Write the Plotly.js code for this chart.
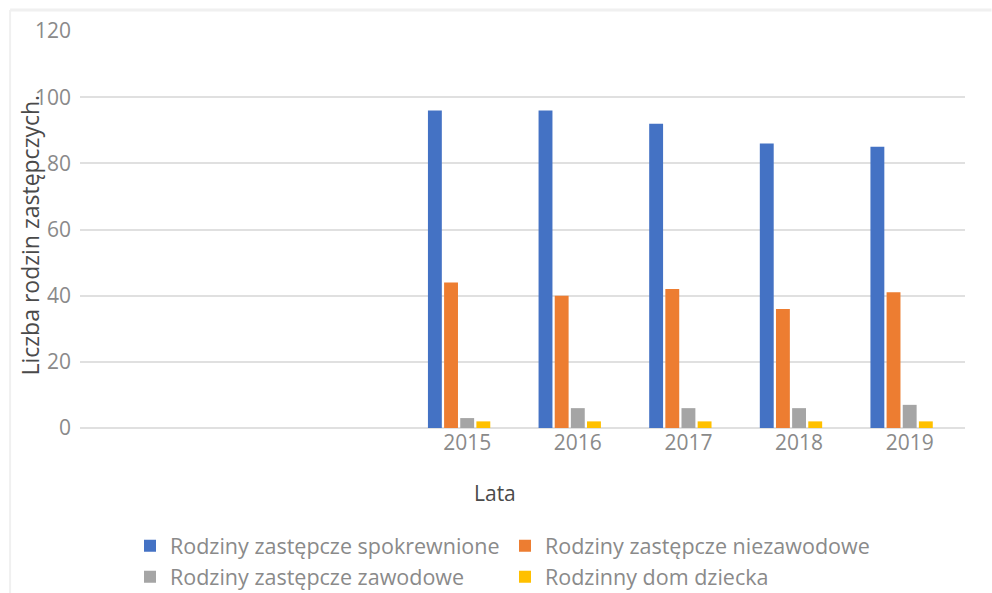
<!DOCTYPE html>
<html>
<head>
<meta charset="utf-8">
<script src="https://cdn.plot.ly/plotly-3.0.1.min.js"></script>
<style>html,body{margin:0;padding:0;background:#fff;}#chart{width:992px;height:593px;}</style>
</head>
<body>
<div id="chart"></div>
<script>
// Categories (first three slots are empty in the source chart)
const categories = [" ", "  ", "   ", "2015", "2016", "2017", "2018", "2019"];
const seriesNames = [
  "Rodziny zastępcze spokrewnione",
  "Rodziny zastępcze niezawodowe",
  "Rodziny zastępcze zawodowe",
  "Rodzinny dom dziecka"
];
const spokrewnione  = [null, null, null, 96, 96, 92, 86, 85];
const niezawodowe   = [null, null, null, 44, 40, 42, 36, 41];
const zawodowe      = [null, null, null, 3, 6, 6, 6, 7];
const domDziecka    = [null, null, null, 2, 2, 2, 2, 2];
const emptySeries   = [null, null, null, null, null, null, null, null];
const colors = ["#4472C4", "#ED7D31", "#A5A5A5", "#FFC000"];
const yTicks = [0, 20, 40, 60, 80, 100, 120];

const values = [spokrewnione, niezawodowe, zawodowe, domDziecka];
const traces = values.map((v, i) => ({
  type: "bar", x: categories, y: v, name: seriesNames[i],
  marker: {color: colors[i]}, hoverinfo: "none"
}));
traces.push({type: "bar", x: categories, y: emptySeries, name: "", showlegend: false, hoverinfo: "none"});

const layout = {
  width: 992, height: 593,
  margin: {l: 80, r: 27, t: 31, b: 165, autoexpand: false},
  paper_bgcolor: "#ffffff", plot_bgcolor: "#ffffff",
  barmode: "group", bargap: 0.27, bargroupgap: 0.14,
  font: {family: "Open Sans, sans-serif", color: "#8a8a8a"},
  showlegend: true,
  xaxis: {
    type: "category", categoryorder: "array", categoryarray: categories,
    showgrid: false, zeroline: false, showline: false, ticks: "",
    tickfont: {size: 21, color: "#8a8a8a"}, fixedrange: true, automargin: false
  },
  yaxis: {
    range: [0, 120], tickvals: yTicks, ticktext: yTicks.map(String),
    showgrid: true, gridcolor: "#e0e0e0", gridwidth: 2,
    zeroline: true, zerolinecolor: "#e0e0e0", zerolinewidth: 2,
    showline: false, ticks: "", ticklabelstandoff: 8,
    tickfont: {size: 21, color: "#8a8a8a"}, fixedrange: true, automargin: false
  },
  legend: {
    orientation: "h", x: 0.0565, xanchor: "left", y: -0.245, yanchor: "top",
    entrywidth: 330, entrywidthmode: "pixels",
    font: {size: 21.5, color: "#8a8a8a"}, itemwidth: 30, traceorder: "normal"
  },
  annotations: [
    {text: "Liczba rodzin zastępczych.", xref: "paper", yref: "paper", x: -0.056, y: 0.486,
     xanchor: "center", yanchor: "middle", textangle: -90, showarrow: false,
     font: {size: 23, color: "#4a4a4a"}},
    {text: "Lata", xref: "paper", yref: "paper", x: 0.469, y: -0.164,
     xanchor: "center", yanchor: "middle", showarrow: false,
     font: {size: 21, color: "#4a4a4a"}}
  ],
  shapes: [
    {type: "line", xref: "paper", yref: "paper", x0: -0.079, x1: 1.03, y0: 1.053, y1: 1.053,
     line: {color: "#f0f0f0", width: 3}},
    {type: "line", xref: "paper", yref: "paper", x0: -0.079, x1: -0.079, y0: 1.053, y1: -0.42,
     line: {color: "#f0f0f0", width: 2}}
  ]
};

Plotly.newPlot("chart", traces, layout, {staticPlot: true, displayModeBar: false});
</script>
</body>
</html>
